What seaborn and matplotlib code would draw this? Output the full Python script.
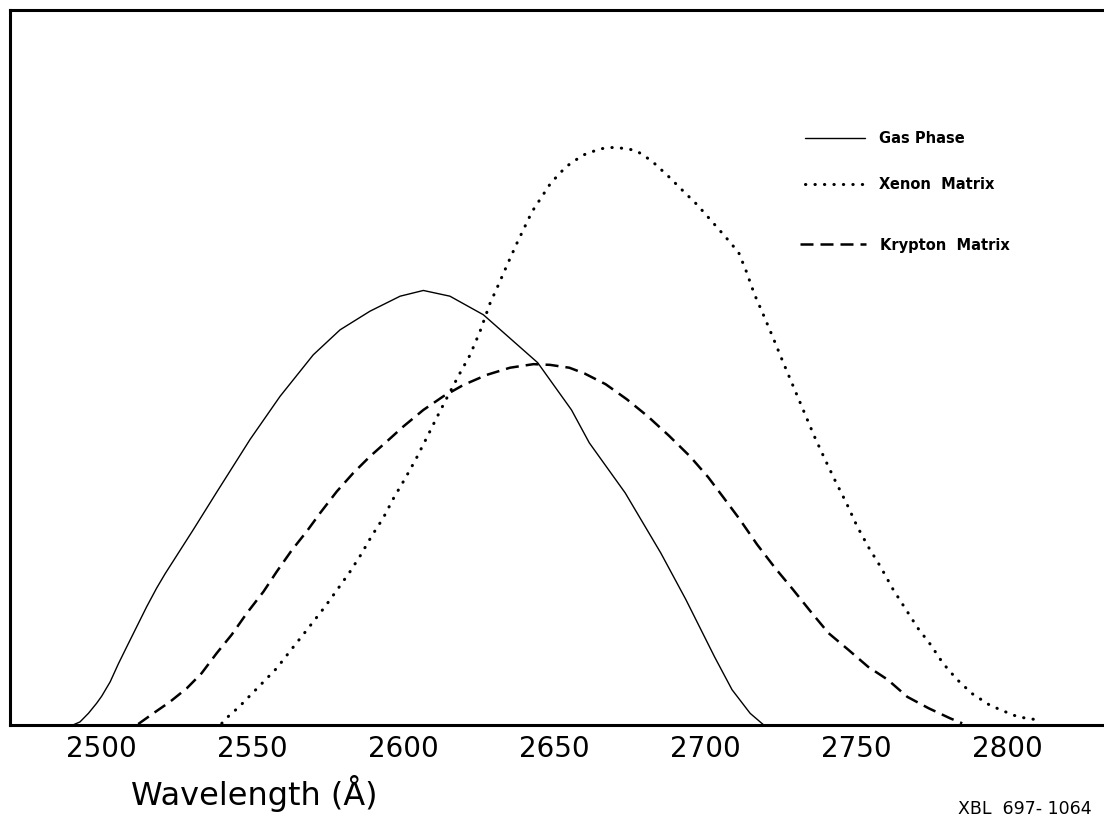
import matplotlib
matplotlib.use("Agg")
import matplotlib.pyplot as plt
import seaborn as sns

# golflengte (Angstrom) en relatieve intensiteit
gas_wl = [2490.1, 2492.8, 2495.6, 2498.3, 2500.0, 2502.8, 2505.5, 2508.3, 2511.6,
          2514.9, 2518.2, 2521.0, 2530.4, 2538.1, 2549.2, 2559.1, 2570.1, 2579.0,
          2588.9, 2598.9, 2606.6, 2615.4, 2626.5, 2644.5, 2655.7, 2661.6, 2673.5,
          2685.3, 2693.6, 2703.1, 2708.9, 2714.9, 2719.6]
gas_int = [0.0, 0.5, 1.7, 3.1, 4.1, 6.1, 8.6, 11.0, 13.8,
           16.6, 19.2, 21.2, 27.4, 32.6, 40.0, 46.0, 51.8, 55.3,
           57.9, 60.0, 60.8, 60.0, 57.4, 50.7, 44.1, 39.5, 32.5,
           24.1, 17.6, 9.6, 5.0, 1.7, 0.0]

xe_wl = [2539.8, 2542.5, 2545.3, 2549.9, 2552.7, 2558.0, 2563.0, 2567.9, 2574.0,
         2578.1, 2582.3, 2585.8, 2589.5, 2593.3, 2596.9, 2600.4, 2604.1, 2607.7,
         2611.0, 2614.9, 2618.8, 2622.1, 2625.4, 2628.7, 2631.6, 2634.4, 2637.6,
         2642.6, 2648.8, 2653.9, 2659.4, 2665.2, 2669.7, 2674.3, 2677.3, 2682.3,
         2687.7, 2692.7, 2697.3, 2701.7, 2706.5, 2711.1, 2713.6, 2716.3, 2719.6,
         2722.6, 2725.5, 2728.5, 2732.9, 2736.2, 2739.7, 2743.1, 2746.8, 2750.4,
         2754.3, 2758.1, 2762.3, 2766.4, 2770.5, 2774.7, 2778.8, 2783.3, 2788.3,
         2794.1, 2797.8, 2803.7, 2809.9]
xe_int = [0.3, 1.5, 2.5, 4.5, 5.7, 8.0, 10.7, 13.3, 16.6,
          19.0, 21.5, 23.8, 26.5, 29.0, 31.9, 34.4, 37.2, 40.2,
          43.0, 46.2, 49.3, 51.8, 55.1, 59.0, 61.7, 64.4, 67.4,
          71.8, 75.8, 78.1, 79.7, 80.6, 80.8, 80.6, 80.3, 78.9,
          76.8, 74.7, 72.8, 70.7, 68.4, 66.1, 63.5, 60.3, 57.1,
          54.1, 51.1, 48.1, 43.7, 40.4, 37.2, 34.2, 31.1, 27.8,
          24.8, 22.2, 19.0, 16.3, 13.6, 11.3, 8.7, 6.5, 4.5,
          2.9, 2.2, 1.2, 0.8]

kr_wl = [2512.1, 2517.1, 2522.6, 2528.2, 2533.1, 2538.1, 2543.1, 2548.1, 2553.6,
         2558.0, 2563.0, 2567.9, 2572.4, 2577.9, 2583.4, 2588.9, 2594.5, 2600.0,
         2606.6, 2613.2, 2619.9, 2627.6, 2635.3, 2643.1, 2648.6, 2655.0, 2660.0,
         2667.0, 2674.0, 2681.0, 2688.0, 2695.0, 2701.0, 2706.0, 2711.3, 2717.2,
         2723.2, 2729.1, 2735.0, 2740.9, 2747.4, 2754.0, 2760.5, 2767.0, 2774.1,
         2781.2, 2785.2]
kr_int = [0.2, 1.7, 3.3, 5.2, 7.3, 10.1, 12.7, 15.7, 18.7,
          21.5, 24.5, 27.1, 29.7, 32.7, 35.3, 37.6, 39.7, 41.8,
          44.1, 46.0, 47.6, 49.0, 50.0, 50.5, 50.4, 50.0, 49.2,
          47.7, 45.6, 43.2, 40.5, 37.6, 34.7, 31.9, 28.9, 25.3,
          22.0, 19.0, 15.9, 12.9, 10.6, 8.2, 6.4, 4.0, 2.4,
          1.0, 0.3]

tick_waarden = [2500, 2550, 2600, 2650, 2700, 2750, 2800]

sns.set_style("white")
plt.rcParams['font.family'] = ['DejaVu Sans']
plt.rcParams['text.color'] = 'black'
plt.rcParams['xtick.color'] = 'black'
plt.rcParams['xtick.labelcolor'] = 'black'

fig = plt.figure(figsize=(11.04, 8.19), dpi=100)
ax = fig.add_axes([0.00906, 0.1142, 1.0, 0.8736])

l_gas = sns.lineplot(x=gas_wl, y=gas_int, ax=ax, color='black', lw=1.0,
                     linestyle='-', label='Gas Phase').lines[-1]
l_xe = sns.lineplot(x=xe_wl, y=xe_int, ax=ax, color='black', lw=2.2,
                    linestyle=(0, (0.1, 3.0)), dash_capstyle='round',
                    label='Xenon  Matrix').lines[-1]
l_kr = sns.lineplot(x=kr_wl, y=kr_int, ax=ax, color='black', lw=1.8,
                    linestyle=(0, (5.2, 2.8)), label='Krypton  Matrix').lines[-1]

ax.set_xlim(2469.6, 2835.5)
ax.set_ylim(0, 100)
ax.set_xticks(tick_waarden)
ax.set_xticklabels([str(t) for t in tick_waarden], fontsize=20)
ax.set_yticks([])
ax.tick_params(axis='x', direction='in', length=18, width=1.5, pad=7, color='black')
ax.set_xlabel('')
ax.set_ylabel('')

for s in ['left', 'top', 'bottom']:
    ax.spines[s].set_linewidth(2.2)
    ax.spines[s].set_color('black')
ax.spines['right'].set_visible(False)

# legenda in twee delen, zodat de afstand tot Krypton groter is
leg_opts = dict(frameon=False, borderpad=0, borderaxespad=0,
                handletextpad=1.0, prop={'size': 10.5, 'weight': 'bold'},
                labelcolor='black')
leg1 = ax.legend([l_gas, l_xe], ['Gas Phase', 'Xenon  Matrix'], loc='upper left',
                 bbox_to_anchor=(0.72, 0.831), labelspacing=2.15, handlelength=4.1,
                 **leg_opts)
ax.add_artist(leg1)
ax.legend([l_kr], ['Krypton  Matrix'], loc='upper left',
          bbox_to_anchor=(0.7155, 0.682), handlelength=4.5, **leg_opts)

fig.text(131 / 1104, 1 - 805 / 819, 'Wavelength (Å)', fontsize=23, ha='left',
         va='baseline', color='black')
fig.text(958 / 1104, 1 - 814 / 819, 'XBL  697- 1064', fontsize=12.5, ha='left',
         va='baseline', color='black')

fig.savefig('out.png', dpi=100)
